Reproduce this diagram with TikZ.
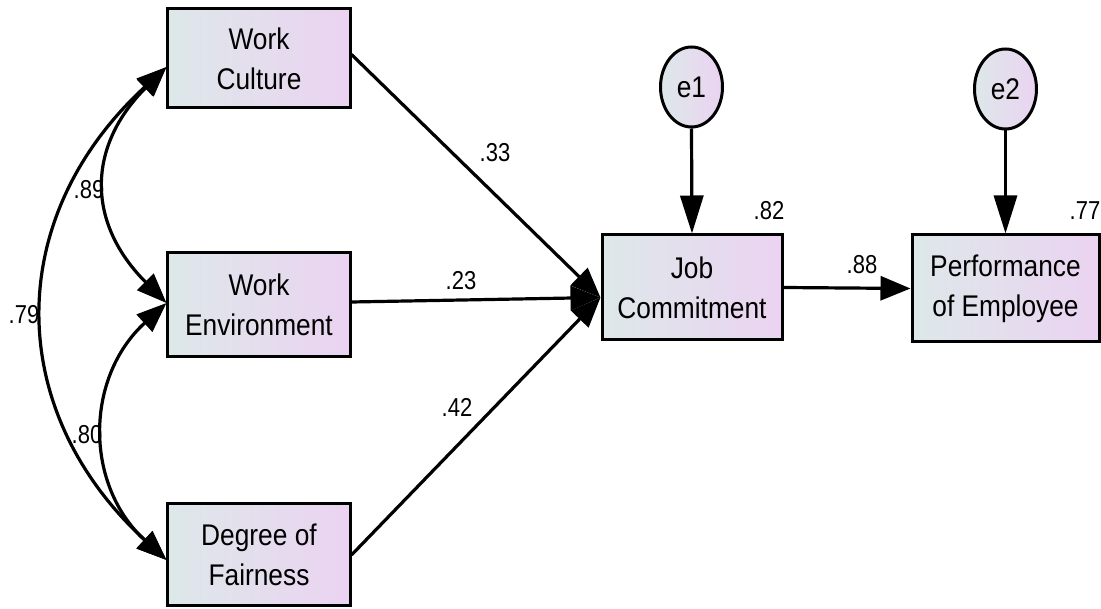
\documentclass[tikz,border=0pt]{standalone}
\usepackage{fontspec}
\setmainfont{Liberation Sans}
\newfontfamily\boxfont[FakeStretch=0.88]{Liberation Sans}
\newfontfamily\lblfont[FakeStretch=0.85]{Liberation Sans}
\usetikzlibrary{arrows.meta,calc,shapes.geometric}
\definecolor{gl}{RGB}{221,232,233}
\definecolor{gr}{RGB}{235,211,241}
\begin{document}
\begin{tikzpicture}[x=0.5bp,y=-0.5bp,
  box/.style={draw=black, line width=1.5bp, left color=gl, right color=gr,
    align=center, inner sep=0pt, font=\boxfont\fontsize{15}{20}\selectfont},
  err/.style={ellipse, draw=black, line width=1.5bp, left color=gl, right color=gr,
    minimum width=31bp, minimum height=40bp, inner sep=0pt, font=\boxfont\fontsize{15}{18}\selectfont},
  arr/.style={line width=1.6bp, -{Triangle[length=15bp,width=12bp]}},
  varr/.style={line width=1.6bp, -{Triangle[length=19bp,width=11.5bp]}},
  cov/.style={line width=1.6bp, {Triangle[length=15bp,width=11.5bp]}-{Triangle[length=15bp,width=11.5bp]}},
  lbl/.style={font=\lblfont\fontsize{13}{15}\selectfont, inner sep=0pt}]
\useasboundingbox (0,0) rectangle (1101,609);
\fill[white] (0,0) rectangle (1101,609);

\node[box, minimum width=91bp, minimum height=49.5bp] (wc) at (259,58.5) {Work\\Culture};
\node[box, minimum width=91bp, minimum height=52bp] (we) at (259,305) {Work\\Environment};
\node[box, minimum width=91bp, minimum height=51bp] (df) at (259,555) {Degree of\\Fairness};
\node[box, minimum width=90bp, minimum height=52.5bp] (jc) at (692,287.5) {Job\\Commitment};
\node[box, minimum width=93.5bp, minimum height=53.5bp] (pe) at (1005.5,288.5) {Performance\\of Employee};
\node[err] (e1) at (691.5,87) {e1};
\node[err] (e2) at (1005.5,89) {e2};

\coordinate (jcin) at ($(jc.west)+(0,10)$);
\draw[arr] ($(wc.east)+(0,-4)$) -- (jcin);
\draw[arr] ($(we.east)+(0,-3)$) -- (jcin);
\draw[arr] (df.east) -- (jcin);
\draw[arr] (jc.east) -- (pe.west);
\draw[varr] (e1.south) -- (jc.north);
\draw[varr] (e2.south) -- (pe.north);

\coordinate (wcL) at ($(wc.west)+(0,8.5)$);
\coordinate (weL) at ($(we.west)+(0,-2)$);
\coordinate (dfL) at ($(df.west)+(0,5)$);
\draw[cov] (wcL) .. controls +(-80,80) and +(-80,-80) .. (weL);
\draw[cov] (weL) .. controls +(-82,75) and +(-82,-75) .. (dfL);
\draw[cov] (wcL) .. controls +(-163,150) and +(-163,-150) .. (dfL);

\node[lbl] (l33) at (495,153) {.33};
\node[lbl] (l23) at (461,281) {.23};
\node[lbl] (l42) at (457,407) {.42};
\node[lbl] (l88) at (862,265) {.88};
\node[lbl] (l82) at (769,211) {.82};
\node[lbl] (l77) at (1085,211) {.77};
\node[lbl] (l89) at (89,190) {.89};
\node[lbl] (l79) at (24,315) {.79};
\node[lbl] (l80) at (87,435) {.80};
\end{tikzpicture}
\end{document}
